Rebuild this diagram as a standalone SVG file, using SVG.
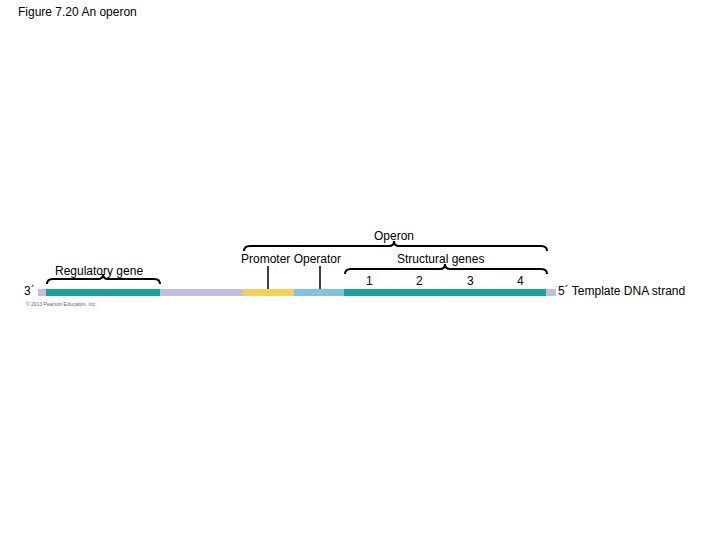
<svg xmlns="http://www.w3.org/2000/svg" width="720" height="540" viewBox="0 0 720 540">
<style>
text{font-family:"Liberation Sans",Arial,sans-serif;font-size:12px;fill:#000}
.b{fill:none;stroke:#000;stroke-width:2}
.s{stroke:#5a8a88;stroke-width:0.6}
.l{stroke:#000;stroke-width:1.5}
</style>
<rect width="720" height="540" fill="#fff"/>
<text x="18" y="16" style="font-size:12px">Figure 7.20  An operon</text>
<g id="dna">
<rect x="38" y="289" width="8" height="7" fill="#c3bde0"/>
<rect x="46" y="289" width="114" height="7" fill="#17a39a"/>
<rect x="160" y="289" width="83" height="7" fill="#c3bde0"/>
<rect x="243" y="289" width="51" height="7" fill="#f5cf5a"/>
<rect x="294" y="289" width="50" height="7" fill="#7fc4dc"/>
<rect x="344" y="289" width="202" height="7" fill="#17a39a"/>
<rect x="546" y="289" width="10" height="7" fill="#c3bde0"/>
<line class="s" x1="103" y1="289" x2="103" y2="296"/>
<line class="s" x1="395" y1="289" x2="395" y2="296"/>
<line class="s" x1="446" y1="289" x2="446" y2="296"/>
<line class="s" x1="497" y1="289" x2="497" y2="296"/>
</g>
<g id="labels">
<text x="24" y="295">3´</text>
<text x="558" y="295">5´ Template DNA strand</text>
<text x="55" y="275">Regulatory gene</text>
<text x="241" y="263">Promoter Operator</text>
<text x="374" y="240">Operon</text>
<text x="397" y="263">Structural genes</text>
<text x="366" y="285">1</text>
<text x="416" y="285">2</text>
<text x="467" y="285">3</text>
<text x="517" y="285">4</text>
<text x="26" y="306" style="font-size:5px;fill:#666">© 2013 Pearson Education, Inc.</text>
</g>
<g id="connectors">
<path class="b" d="M47,284 Q47,279 53,279 L98,279 Q103,279 103,274 Q103,279 108,279 L154,279 Q160,279 160,284"/>
<path class="b" d="M244,251 Q244,246 250,246 L389,246 Q394,246 394,241 Q394,246 399,246 L541,246 Q547,246 547,251"/>
<path class="b" d="M345,274 Q345,269 351,269 L440,269 Q445,269 445,264 Q445,269 450,269 L541,269 Q547,269 547,274"/>
<line class="l" x1="268" y1="266" x2="268" y2="289"/>
<line class="l" x1="320" y1="266" x2="320" y2="289"/>
</g>
</svg>
